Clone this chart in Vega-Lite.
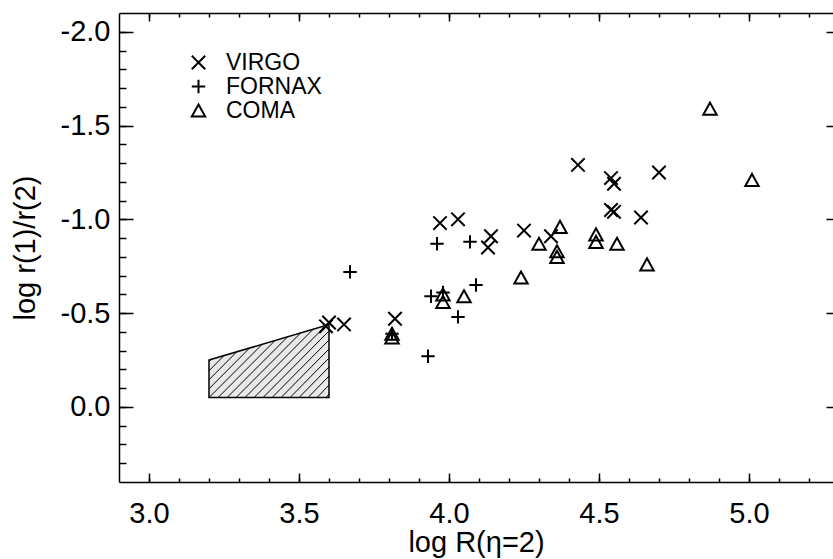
{
  "$schema": "https://vega.github.io/schema/vega-lite/v6.json",
  "width": 714,
  "height": 469,
  "autosize": {"type": "none"},
  "padding": {"left": 119, "top": 13, "right": 0, "bottom": 77},
  "config": {
    "view": {"stroke": null},
    "font": "Liberation Sans",
    "axis": {"grid": false, "labelColor": "black", "titleColor": "black", "tickColor": "black", "domainColor": "black", "tickWidth": 1.5, "domainWidth": 1.5, "titleFontWeight": "normal"}
  },
  "datasets": {
    "box": [
      {"x": 3.2, "y": -0.25, "y2": -0.05},
      {"x": 3.6, "y": -0.44, "y2": -0.05}
    ],
    "hatch": [
      {"x": 3.2, "y": -0.241, "x2": 3.21, "y2": -0.258},
      {"x": 3.2, "y": -0.193, "x2": 3.252, "y2": -0.277},
      {"x": 3.2, "y": -0.145, "x2": 3.295, "y2": -0.298},
      {"x": 3.2, "y": -0.097, "x2": 3.337, "y2": -0.317},
      {"x": 3.2, "y": -0.05, "x2": 3.379, "y2": -0.337},
      {"x": 3.23, "y": -0.05, "x2": 3.422, "y2": -0.357},
      {"x": 3.26, "y": -0.05, "x2": 3.464, "y2": -0.377},
      {"x": 3.29, "y": -0.05, "x2": 3.507, "y2": -0.397},
      {"x": 3.32, "y": -0.05, "x2": 3.549, "y2": -0.417},
      {"x": 3.35, "y": -0.05, "x2": 3.591, "y2": -0.436},
      {"x": 3.38, "y": -0.05, "x2": 3.6, "y2": -0.405},
      {"x": 3.41, "y": -0.05, "x2": 3.6, "y2": -0.357},
      {"x": 3.44, "y": -0.05, "x2": 3.6, "y2": -0.309},
      {"x": 3.47, "y": -0.05, "x2": 3.6, "y2": -0.261},
      {"x": 3.5, "y": -0.05, "x2": 3.6, "y2": -0.213},
      {"x": 3.53, "y": -0.05, "x2": 3.6, "y2": -0.165},
      {"x": 3.56, "y": -0.05, "x2": 3.6, "y2": -0.117},
      {"x": 3.59, "y": -0.05, "x2": 3.6, "y2": -0.069}
    ],
    "points": [
      {"sample": "VIRGO", "logR": 3.59, "ratio": -0.43},
      {"sample": "VIRGO", "logR": 3.60, "ratio": -0.45},
      {"sample": "VIRGO", "logR": 3.65, "ratio": -0.44},
      {"sample": "VIRGO", "logR": 3.82, "ratio": -0.47},
      {"sample": "VIRGO", "logR": 3.97, "ratio": -0.98},
      {"sample": "VIRGO", "logR": 4.03, "ratio": -1.00},
      {"sample": "VIRGO", "logR": 4.14, "ratio": -0.91},
      {"sample": "VIRGO", "logR": 4.13, "ratio": -0.85},
      {"sample": "VIRGO", "logR": 4.25, "ratio": -0.94},
      {"sample": "VIRGO", "logR": 4.34, "ratio": -0.91},
      {"sample": "VIRGO", "logR": 4.43, "ratio": -1.29},
      {"sample": "VIRGO", "logR": 4.54, "ratio": -1.22},
      {"sample": "VIRGO", "logR": 4.55, "ratio": -1.19},
      {"sample": "VIRGO", "logR": 4.54, "ratio": -1.05},
      {"sample": "VIRGO", "logR": 4.55, "ratio": -1.04},
      {"sample": "VIRGO", "logR": 4.64, "ratio": -1.01},
      {"sample": "VIRGO", "logR": 4.70, "ratio": -1.25},
      {"sample": "FORNAX", "logR": 3.67, "ratio": -0.72},
      {"sample": "FORNAX", "logR": 3.93, "ratio": -0.27},
      {"sample": "FORNAX", "logR": 3.94, "ratio": -0.59},
      {"sample": "FORNAX", "logR": 3.96, "ratio": -0.87},
      {"sample": "FORNAX", "logR": 4.03, "ratio": -0.48},
      {"sample": "FORNAX", "logR": 4.07, "ratio": -0.88},
      {"sample": "FORNAX", "logR": 4.09, "ratio": -0.65},
      {"sample": "FORNAX", "logR": 3.81, "ratio": -0.39},
      {"sample": "FORNAX", "logR": 3.98, "ratio": -0.61},
      {"sample": "COMA", "logR": 3.81, "ratio": -0.39},
      {"sample": "COMA", "logR": 3.81, "ratio": -0.37},
      {"sample": "COMA", "logR": 3.98, "ratio": -0.60},
      {"sample": "COMA", "logR": 3.98, "ratio": -0.56},
      {"sample": "COMA", "logR": 4.05, "ratio": -0.59},
      {"sample": "COMA", "logR": 4.24, "ratio": -0.69},
      {"sample": "COMA", "logR": 4.30, "ratio": -0.87},
      {"sample": "COMA", "logR": 4.37, "ratio": -0.96},
      {"sample": "COMA", "logR": 4.36, "ratio": -0.83},
      {"sample": "COMA", "logR": 4.36, "ratio": -0.80},
      {"sample": "COMA", "logR": 4.49, "ratio": -0.92},
      {"sample": "COMA", "logR": 4.49, "ratio": -0.88},
      {"sample": "COMA", "logR": 4.56, "ratio": -0.87},
      {"sample": "COMA", "logR": 4.66, "ratio": -0.76},
      {"sample": "COMA", "logR": 4.87, "ratio": -1.59},
      {"sample": "COMA", "logR": 5.01, "ratio": -1.21}
    ],
    "empty": []
  },
  "layer": [
    {
      "data": {"name": "box"},
      "mark": {"type": "area", "fill": "#e8e8e8", "stroke": "black", "strokeWidth": 1.5, "orient": "vertical"},
      "encoding": {
        "x": {"field": "x", "type": "quantitative",
          "scale": {"domain": [2.9, 5.28], "nice": false, "zero": false},
          "axis": {"orient": "bottom", "values": [3, 3.5, 4, 4.5, 5], "ticks": false, "labelPadding": 17, "labelFontSize": 29, "labelExpr": "format(datum.value, '.1f')", "domain": true, "title": "log R(η=2)", "titleFontSize": 29, "titlePadding": 0, "labelFlush": false}},
        "y": {"field": "y", "type": "quantitative",
          "scale": {"domain": [-2.1, 0.4], "reverse": true, "nice": false, "zero": false},
          "axis": {"orient": "left", "values": [-2, -1.5, -1, -0.5, 0], "ticks": false, "labelPadding": 9, "labelFontSize": 29, "labelExpr": "replace(format(datum.value, '.1f'), '−', '-')", "domain": true, "title": "log r(1)/r(2)", "titleFontSize": 29, "titlePadding": 20, "labelFlush": false}},
        "y2": {"field": "y2"}
      }
    },
    {
      "data": {"name": "hatch"},
      "mark": {"type": "rule", "color": "black", "strokeWidth": 1},
      "encoding": {
        "x": {"field": "x", "type": "quantitative",
          "axis": {"orient": "top", "values": [3, 3.5, 4, 4.5, 5], "labels": false, "tickSize": -8, "domain": true, "title": null}},
        "y": {"field": "y", "type": "quantitative",
          "axis": {"orient": "right", "values": [-2, -1.5, -1, -0.5, 0], "labels": false, "tickSize": -7, "domain": false, "title": null}},
        "x2": {"field": "x2"},
        "y2": {"field": "y2"}
      }
    },
    {
      "data": {"name": "points"},
      "mark": {"type": "point", "filled": false, "color": "black", "strokeWidth": 2, "size": 180, "opacity": 1},
      "encoding": {
        "x": {"field": "logR", "type": "quantitative",
          "axis": {"orient": "bottom", "values": [3.0, 3.1, 3.2, 3.3, 3.4, 3.5, 3.6, 3.7, 3.8, 3.9, 4.0, 4.1, 4.2, 4.3, 4.4, 4.5, 4.6, 4.7, 4.8, 4.9, 5.0, 5.1, 5.2], "labels": false, "tickSize": -4, "domain": false, "title": null}},
        "y": {"field": "ratio", "type": "quantitative",
          "axis": {"orient": "left", "values": [-2.0, -1.9, -1.8, -1.7, -1.6, -1.5, -1.4, -1.3, -1.2, -1.1, -1.0, -0.9, -0.8, -0.7, -0.6, -0.5, -0.4, -0.3, -0.2, -0.1, 0.0, 0.1, 0.2, 0.3], "labels": false, "tickSize": -7, "domain": false, "title": null}},
        "shape": {"field": "sample", "type": "nominal",
          "scale": {"domain": ["VIRGO", "FORNAX", "COMA"], "range": ["M-1,-1L1,1M-1,1L1,-1", "M-1,0L1,0M0,-1L0,1", "M0,-0.9L1,0.9L-1,0.9Z"]},
          "legend": {"orient": "none", "legendX": 68, "legendY": 38, "title": null, "padding": 0, "labelFontSize": 23, "labelColor": "black", "labelOffset": 16, "rowPadding": -1, "symbolSize": 180, "symbolStrokeWidth": 2, "symbolStrokeColor": "black", "symbolFillColor": "transparent"}}
      }
    },
    {
      "data": {"name": "empty"},
      "mark": {"type": "point", "opacity": 0},
      "encoding": {
        "x": {"field": "logR", "type": "quantitative",
          "axis": {"orient": "bottom", "values": [3, 3.5, 4, 4.5, 5], "labels": false, "tickSize": -9, "domain": false, "title": null}},
        "y": {"field": "ratio", "type": "quantitative",
          "axis": {"orient": "left", "values": [-2, -1.5, -1, -0.5, 0], "labels": false, "tickSize": -14, "domain": false, "title": null}}
      }
    },
    {
      "data": {"name": "empty"},
      "mark": {"type": "point", "opacity": 0},
      "encoding": {
        "x": {"field": "logR", "type": "quantitative",
          "axis": {"orient": "top", "values": [3.0, 3.1, 3.2, 3.3, 3.4, 3.5, 3.6, 3.7, 3.8, 3.9, 4.0, 4.1, 4.2, 4.3, 4.4, 4.5, 4.6, 4.7, 4.8, 4.9, 5.0, 5.1, 5.2], "labels": false, "tickSize": -4, "domain": false, "title": null}},
        "y": {"field": "ratio", "type": "quantitative", "axis": null}
      }
    }
  ],
  "resolve": {"axis": {"x": "independent", "y": "independent"}}
}
